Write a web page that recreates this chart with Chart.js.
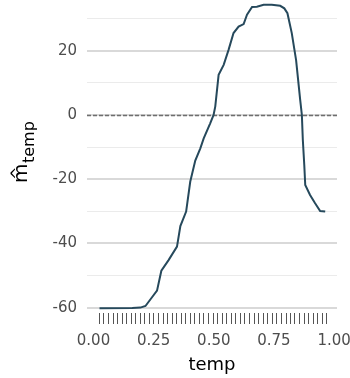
<!DOCTYPE html>
<html><head><meta charset="utf-8">
<script src="https://cdn.jsdelivr.net/npm/chart.js@4/dist/chart.umd.min.js"></script>
<style>html,body{margin:0;padding:0;background:#fff;}</style>
</head><body>
<canvas id="c" width="350" height="378" style="width:350px;height:378px;display:block"></canvas>
<script>
// ---- data ----
const tempX = [0.025,0.161,0.195,0.216,0.237,0.264,0.282,0.312,0.347,0.361,0.385,0.402,0.423,0.444,0.458,0.485,0.499,0.506,0.520,0.541,0.561,0.582,0.603,0.624,0.638,0.659,0.679,0.707,0.741,0.776,0.793,0.806,0.824,0.842,0.859,0.866,0.870,0.876,0.880,0.900,0.921,0.942,0.963];
const mTemp = [-60.2,-60.1,-60.0,-59.5,-57.4,-54.7,-48.5,-45.2,-41.0,-34.6,-30.1,-20.8,-14.2,-10.4,-7.3,-2.6,0.0,2.6,12.5,15.6,20.2,25.5,27.5,28.3,31.2,33.6,33.7,34.3,34.3,34.0,33.2,31.7,25.5,17.1,4.7,0.0,-7.8,-15.6,-21.8,-24.9,-27.5,-29.9,-30.1];
const rugX = [0.022,0.041,0.060,0.079,0.098,0.117,0.136,0.154,0.173,0.192,0.211,0.230,0.249,0.268,0.287,0.306,0.325,0.344,0.363,0.381,0.400,0.419,0.438,0.457,0.476,0.495,0.514,0.533,0.552,0.571,0.590,0.608,0.627,0.646,0.665,0.684,0.703,0.722,0.741,0.760,0.779,0.798,0.817,0.835,0.854,0.873,0.892,0.911,0.930,0.949,0.968];
const xTickVals = [0, 0.25, 0.5, 0.75, 1];
const yTickVals = [-60,-50,-40,-30,-20,-10,0,10,20,30];
const yLabeled = [-60,-40,-20,0,20];
const refLineY = [0];

const FONT = '"DejaVu Sans", "Liberation Sans", Arial, sans-serif';

const extras = {
  id: 'extras',
  beforeDatasetsDraw(chart) {
    const {ctx, chartArea: a, scales: {y}} = chart;
    ctx.save();
    ctx.strokeStyle = '#6e6e6e';
    ctx.lineWidth = 1.5;
    ctx.setLineDash([4, 2]);
    refLineY.forEach(v => {
      const py = Math.round(y.getPixelForValue(v)) + 0.5;
      ctx.beginPath(); ctx.moveTo(a.left, py); ctx.lineTo(a.right, py); ctx.stroke();
    });
    ctx.restore();
  },
  afterDatasetsDraw(chart) {
    const {ctx, chartArea: a, scales: {x}} = chart;
    ctx.save();
    ctx.strokeStyle = '#555555';
    ctx.lineWidth = 1;
    rugX.forEach(v => {
      const px = Math.round(x.getPixelForValue(v)) + 0.5;
      ctx.beginPath(); ctx.moveTo(px, a.bottom - 11); ctx.lineTo(px, a.bottom); ctx.stroke();
    });
    ctx.restore();
  },
  afterDraw(chart) {
    const {ctx} = chart;
    ctx.save();
    ctx.fillStyle = '#000';
    ctx.textBaseline = 'alphabetic';
    ctx.textAlign = 'left';
    ctx.font = '20px ' + FONT;
    const wm = ctx.measureText('m').width;
    ctx.translate(27, 183);
    ctx.rotate(-Math.PI / 2);
    ctx.fillText('m', 0, 0);
    ctx.textAlign = 'center';
    ctx.font = '16px ' + FONT;
    ctx.fillText('^', wm / 2, -5);
    ctx.textAlign = 'left';
    ctx.font = '16px ' + FONT;
    ctx.fillText('temp', wm + 0.5, 7);
    ctx.restore();
  }
};

new Chart(document.getElementById('c'), {
  type: 'line',
  data: {
    datasets: [{
      data: tempX.map((v, i) => ({x: v, y: mTemp[i]})),
      borderColor: '#26495c',
      borderWidth: 2,
      pointRadius: 0,
      tension: 0,
      fill: false
    }]
  },
  options: {
    responsive: false,
    animation: false,
    devicePixelRatio: 1,
    layout: {padding: {top: 0, right: 13, left: 0, bottom: 0}},
    plugins: {legend: {display: false}, tooltip: {enabled: false}},
    scales: {
      x: {
        type: 'linear',
        min: -0.027, max: 1.012,
        grid: {display: false, drawTicks: false},
        border: {display: false},
        afterBuildTicks: s => { s.ticks = xTickVals.map(v => ({value: v})); },
        afterFit: s => { s.height = 54; s.paddingLeft = 0; s.paddingRight = 0; },
        ticks: {
          padding: 8,
          color: '#4d4d4d',
          font: {family: FONT, size: 15},
          maxRotation: 0,
          autoSkip: false,
          callback: v => Number(v).toFixed(2)
        },
        title: {
          display: true, text: 'temp', color: '#000',
          font: {family: FONT, size: 18},
          padding: {top: 0, bottom: 2}
        }
      },
      y: {
        min: -65.1, max: 35.8,
        afterBuildTicks: s => { s.ticks = yTickVals.map(v => ({value: v})); },
        afterFit: s => { s.width = 87; s.paddingTop = 0; s.paddingBottom = 0; },
        border: {display: false},
        grid: {
          drawTicks: false,
          color: c => (yLabeled.includes(c.tick.value) ? '#d9d9d9' : '#ebebeb'),
          lineWidth: c => (yLabeled.includes(c.tick.value) ? 2 : 1)
        },
        ticks: {
          padding: 10,
          color: '#4d4d4d',
          font: {family: FONT, size: 15},
          autoSkip: false,
          callback: v => (yLabeled.includes(v) ? String(v) : '')
        }
      }
    }
  },
  plugins: [extras]
});
</script>
</body></html>
